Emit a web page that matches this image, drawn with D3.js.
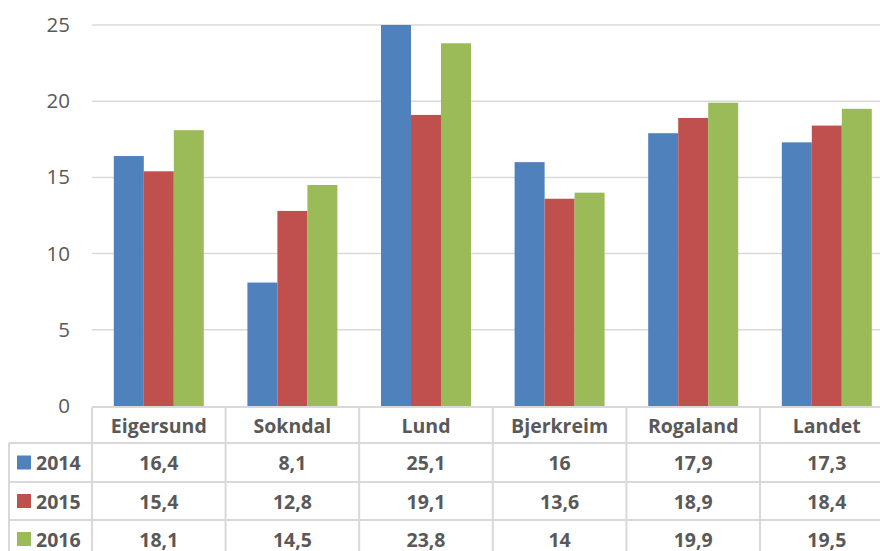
<!DOCTYPE html>
<html><head><meta charset="utf-8">
<script src="https://cdn.jsdelivr.net/npm/d3@7"></script>
<style>body{margin:0;background:#fff;} svg{display:block;}</style>
</head><body>
<svg id="c" width="880" height="551"></svg>
<script>
const categories = ["Eigersund","Sokndal","Lund","Bjerkreim","Rogaland","Landet"];
const seriesNames = ["2014","2015","2016"];
const s2014 = [16.4, 8.1, 25.1, 16, 17.9, 17.3];
const s2015 = [15.4, 12.8, 19.1, 13.6, 18.9, 18.4];
const s2016 = [18.1, 14.5, 23.8, 14, 19.9, 19.5];
const colors = ["#4f81bd","#c0504d","#9bbb59"];
const yTicks = [0,5,10,15,20,25];
const seriesValues = [s2014, s2015, s2016];

const svg = d3.select("#c");
const font = "'Open Sans', sans-serif";
const txt = "#595959";
const grid = "#d9d9d9";
const fs = 19.5;

const x0 = 92, x1 = 893.6;
const y = d3.scaleLinear().domain([0,25]).range([406,25]).clamp(true);
const xb = d3.scaleBand().domain(categories).range([x0,x1]).paddingInner(0).paddingOuter(0);
const xs = d3.scaleBand().domain(seriesNames).range([0,xb.bandwidth()]).paddingInner(0).paddingOuter(0.727);

// gridlines
svg.append("g").selectAll("line").data(yTicks.filter(d=>d>0)).join("line")
  .attr("x1",x0).attr("x2",x1).attr("y1",d=>y(d)).attr("y2",d=>y(d))
  .attr("stroke",grid).attr("stroke-width",1.5);

// y tick labels
const yAxis = d3.axisLeft(y).tickValues(yTicks).tickSize(0).tickPadding(0);
const ga = svg.append("g").attr("transform","translate(70,0)").call(yAxis);
ga.select(".domain").remove();
ga.selectAll("text").attr("font-family",font).attr("font-size",20.5).attr("fill",txt);

// bars
seriesNames.forEach((s,i)=>{
  svg.append("g").selectAll("rect").data(categories).join("rect")
    .attr("x",c=>xb(c)+xs(s)).attr("width",xs.bandwidth())
    .attr("y",(c,j)=>y(seriesValues[i][j]))
    .attr("height",(c,j)=>y(0)-y(seriesValues[i][j]))
    .attr("fill",colors[i]);
});

// table
const rowTop = [407, 443, 482, 520, 558];
const legX = 9;
const t = svg.append("g");
t.append("line").attr("x1",x0).attr("x2",x1).attr("y1",rowTop[0]).attr("y2",rowTop[0]).attr("stroke",grid).attr("stroke-width",2);
rowTop.slice(1).forEach(r=>{
  t.append("line").attr("x1",legX).attr("x2",x1).attr("y1",r).attr("y2",r).attr("stroke",grid).attr("stroke-width",2);
});
categories.forEach(c=>{
  t.append("line").attr("x1",xb(c)).attr("x2",xb(c)).attr("y1",rowTop[0]).attr("y2",rowTop[4]).attr("stroke",grid).attr("stroke-width",2);
});
t.append("line").attr("x1",x1).attr("x2",x1).attr("y1",rowTop[0]).attr("y2",rowTop[4]).attr("stroke",grid).attr("stroke-width",2);
t.append("line").attr("x1",legX).attr("x2",legX).attr("y1",rowTop[1]).attr("y2",rowTop[4]).attr("stroke",grid).attr("stroke-width",2);

t.selectAll("text.h").data(categories).join("text").attr("class","h")
  .attr("x",c=>xb(c)+xb.bandwidth()/2).attr("y",(rowTop[0]+rowTop[1])/2)
  .attr("text-anchor","middle").attr("dominant-baseline","central")
  .attr("font-family",font).attr("font-weight","bold").attr("font-size",fs).attr("fill",txt)
  .text(c=>c);

seriesNames.forEach((s,i)=>{
  const cy = (rowTop[i+1]+rowTop[i+2])/2;
  t.append("rect").attr("x",17).attr("y",cy-7).attr("width",14).attr("height",14).attr("fill",colors[i]);
  t.append("text").attr("x",36).attr("y",cy).attr("dominant-baseline","central")
    .attr("font-family",font).attr("font-weight","bold").attr("font-size",fs).attr("fill",txt).text(s);
  t.append("g").selectAll("text").data(categories).join("text")
    .attr("x",c=>xb(c)+xb.bandwidth()/2).attr("y",cy)
    .attr("text-anchor","middle").attr("dominant-baseline","central")
    .attr("font-family",font).attr("font-weight","bold").attr("font-size",fs).attr("fill",txt)
    .text((c,j)=>String(seriesValues[i][j]).replace(".",","));
});
</script>
</body></html>
